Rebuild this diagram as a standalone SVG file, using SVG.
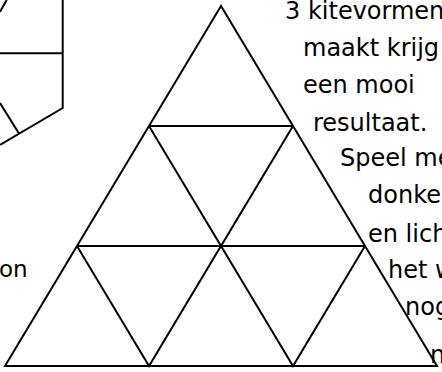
<svg xmlns="http://www.w3.org/2000/svg" width="442" height="372" viewBox="0 0 442 372">
<style>
.ln{fill:none;stroke:#000;stroke-width:2;stroke-linejoin:miter;stroke-linecap:butt}
.tx{font-family:"DejaVu Sans","Liberation Sans",sans-serif;font-size:24px;fill:#000}
.on{font-family:"DejaVu Sans","Liberation Sans",sans-serif;font-size:23px;fill:#000}
</style>
<rect width="442" height="372" fill="#fff"/>
<g id="left-shape" class="ln">
<path d="M0,11.7 L6.7,0"/>
<path d="M62.7,0 L62.7,108 L0,145"/>
<path d="M0,53.3 L62.7,53.3"/>
<path d="M0,103 L19,133.5"/>
</g>
<g id="triangle" class="ln">
<path d="M221,6 L5,366 L437,366 Z"/>
<path d="M149,126 L293,126"/>
<path d="M77,246 L365,246"/>
<path d="M149,126 L221,246 L293,126"/>
<path d="M77,246 L149,366 L221,246 L293,366 L365,246"/>
</g>
<g id="texts">
<text class="tx" x="285" y="19">3 kitevormen</text>
<text class="tx" x="303" y="56">maakt krijg</text>
<text class="tx" x="303" y="93">een mooi</text>
<text class="tx" x="313" y="131">resultaat.</text>
<text class="tx" x="340" y="166">Speel me</text>
<text class="tx" x="368" y="203">donker</text>
<text class="tx" x="368" y="242">en lich</text>
<text class="tx" x="388" y="278">het w</text>
<text class="tx" x="405" y="315">nog</text>
<text class="tx" x="430" y="363">n</text>
<text class="on" x="-1" y="277">on</text>
</g>
</svg>
